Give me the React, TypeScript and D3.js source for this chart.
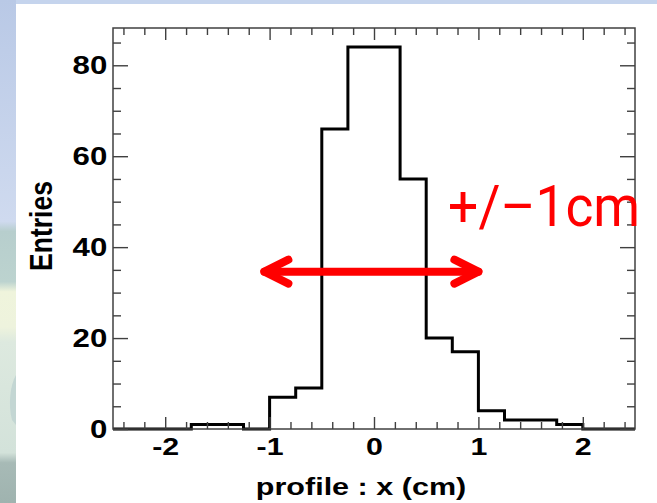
import React, { useRef, useEffect } from 'react';
import * as d3 from 'd3';

// histogram bins (cm) and entries per bin
const binEdges = [-2.5, -2.25, -2.0, -1.75, -1.5, -1.25, -1.0, -0.75, -0.5, -0.25, 0, 0.25, 0.5, 0.75, 1.0, 1.25, 1.5, 1.75, 2.0, 2.25, 2.5];
const counts = [0, 0, 0, 1, 1, 0, 7, 9, 66, 84, 84, 55, 20, 17, 4, 2, 2, 1, 0, 0];

const xDomain = [-2.5, 2.5];
const yDomain = [0, 88.2];
const xMajorTicks = [-2, -1, 0, 1, 2];
const xMinorTicks = [-2.4, -2.2, -1.8, -1.6, -1.4, -1.2, -0.8, -0.6, -0.4, -0.2, 0.2, 0.4, 0.6, 0.8, 1.2, 1.4, 1.6, 1.8, 2.2, 2.4];
const yMajorTicks = [0, 20, 40, 60, 80];
const yMinorTicks = [5, 10, 15, 25, 30, 35, 45, 50, 55, 65, 70, 75, 85];

const xTitle = 'profile : x (cm)';
const yTitle = 'Entries';

// red annotation: double arrow and label
const arrowEnds = [-1.05, 1.0];
const arrowLevel = 34.6;
const noteText = '+/–1cm';
const notePos = [0.71, 44.6];

const W = 657;
const H = 503;
const frame = { left: 113, right: 635, top: 28, bottom: 429 };
const FONT = '"Liberation Sans", Arial, Helvetica, sans-serif';

const App = () => {
    const chartRef = useRef(null);

    useEffect(() => {
        const svg = d3.select(chartRef.current);
        svg.selectAll('*').remove();
        svg.attr('width', W).attr('height', H);

        // slide background bits (top strip + landscape on the left edge)
        const defs = svg.append('defs');
        const grad = defs.append('linearGradient')
            .attr('id', 'sky')
            .attr('x1', 0).attr('y1', 0).attr('x2', 0).attr('y2', 1);
        [
            [0, '#b9c9e6'], [0.44, '#cfdaef'], [0.46, '#b7cecd'], [0.56, '#bcd3cf'],
            [0.58, '#eff4dc'], [0.65, '#eef3dd'], [0.68, '#dde9df'], [0.9, '#d3e2da'],
            [0.92, '#a7bab6'], [1, '#9fb3af']
        ].forEach(([o, c]) => grad.append('stop').attr('offset', o).attr('stop-color', c));

        svg.append('rect').attr('width', W).attr('height', H).attr('fill', '#ffffff');
        svg.append('rect').attr('width', W).attr('height', 4).attr('fill', '#c5d4ed');
        svg.append('rect').attr('width', 16).attr('height', H).attr('fill', 'url(#sky)');
        svg.append('path')
            .attr('d', 'M16,375 C10,385 8,405 12,420 L16,425 Z')
            .attr('fill', '#c3d6d3');

        const x = d3.scaleLinear().domain(xDomain).range([frame.left, frame.right]);
        const y = d3.scaleLinear().domain(yDomain).range([frame.bottom, frame.top]);

        // histogram outline
        const pts = binEdges.map((e, i) => [e, counts[Math.min(i, counts.length - 1)]]);
        const line = d3.line()
            .x((d) => x(d[0]))
            .y((d) => y(d[1]))
            .curve(d3.curveStepAfter);

        svg.append('path')
            .datum(pts)
            .attr('d', line)
            .attr('fill', 'none')
            .attr('stroke', '#000')
            .attr('stroke-width', 3);

        // frame
        svg.append('rect')
            .attr('x', frame.left)
            .attr('y', frame.top)
            .attr('width', frame.right - frame.left)
            .attr('height', frame.bottom - frame.top)
            .attr('fill', 'none')
            .attr('stroke', '#404040')
            .attr('stroke-width', 1.5);

        const styleAxis = (g) => {
            g.select('.domain').remove();
            g.selectAll('line').attr('stroke', '#404040').attr('stroke-width', 1.4);
            g.attr('font-family', FONT).attr('font-weight', 'bold');
        };
        const noLabel = () => '';

        // bottom
        svg.append('g')
            .attr('transform', `translate(0,${frame.bottom})`)
            .call(d3.axisBottom(x).tickValues(xMajorTicks).tickSize(-12).tickSizeOuter(0)
                .tickPadding(10).tickFormat((d) => String(d)))
            .call(styleAxis)
            .call((g) => g.selectAll('text')
                .attr('font-size', 23)
                .attr('fill', '#000')
                .attr('transform', 'scale(1.32,1)'));
        svg.append('g')
            .attr('transform', `translate(0,${frame.bottom})`)
            .call(d3.axisBottom(x).tickValues(xMinorTicks).tickSize(-7).tickSizeOuter(0).tickFormat(noLabel))
            .call(styleAxis);

        // top
        svg.append('g')
            .attr('transform', `translate(0,${frame.top})`)
            .call(d3.axisTop(x).tickValues(xMajorTicks).tickSize(-12).tickSizeOuter(0).tickFormat(noLabel))
            .call(styleAxis);
        svg.append('g')
            .attr('transform', `translate(0,${frame.top})`)
            .call(d3.axisTop(x).tickValues(xMinorTicks).tickSize(-7).tickSizeOuter(0).tickFormat(noLabel))
            .call(styleAxis);

        // left
        svg.append('g')
            .attr('transform', `translate(${frame.left},0)`)
            .call(d3.axisLeft(y).tickValues(yMajorTicks).tickSize(-15).tickSizeOuter(0)
                .tickPadding(4.8).tickFormat((d) => String(d)))
            .call(styleAxis)
            .call((g) => g.selectAll('text')
                .attr('font-size', 26)
                .attr('fill', '#000')
                .attr('transform', 'scale(1.2,1)'));
        svg.append('g')
            .attr('transform', `translate(${frame.left},0)`)
            .call(d3.axisLeft(y).tickValues(yMinorTicks).tickSize(-8).tickSizeOuter(0).tickFormat(noLabel))
            .call(styleAxis);

        // right
        svg.append('g')
            .attr('transform', `translate(${frame.right},0)`)
            .call(d3.axisRight(y).tickValues(yMajorTicks).tickSize(-15).tickSizeOuter(0).tickFormat(noLabel))
            .call(styleAxis);
        svg.append('g')
            .attr('transform', `translate(${frame.right},0)`)
            .call(d3.axisRight(y).tickValues(yMinorTicks).tickSize(-8).tickSizeOuter(0).tickFormat(noLabel))
            .call(styleAxis);

        // axis titles
        svg.append('text')
            .attr('transform', 'translate(361,495) scale(1.3,1)')
            .attr('text-anchor', 'middle')
            .attr('font-family', FONT)
            .attr('font-weight', 'bold')
            .attr('font-size', 23.5)
            .text(xTitle);

        svg.append('text')
            .attr('transform', 'translate(52,226) rotate(-90) scale(1.02,1.18)')
            .attr('text-anchor', 'middle')
            .attr('font-family', FONT)
            .attr('font-weight', 'bold')
            .attr('font-size', 26)
            .text(yTitle);

        // annotation arrow
        const ay = y(arrowLevel);
        const ax0 = x(arrowEnds[0]);
        const ax1 = x(arrowEnds[1]);
        const arrow = svg.append('g')
            .attr('fill', 'none')
            .attr('stroke', '#ff0000')
            .attr('stroke-width', 8)
            .attr('stroke-linecap', 'round')
            .attr('stroke-linejoin', 'round');
        arrow.append('path').attr('d', `M${ax0},${ay}L${ax1},${ay}`);
        arrow.append('path').attr('d', `M${ax0 + 24},${ay - 12}L${ax0},${ay}L${ax0 + 24},${ay + 12}`);
        arrow.append('path').attr('d', `M${ax1 - 24},${ay - 12}L${ax1},${ay}L${ax1 - 24},${ay + 12}`);

        svg.append('text')
            .attr('transform', `translate(${x(notePos[0])},${y(notePos[1])}) scale(0.92,1)`)
            .attr('font-family', 'Roboto, "Liberation Sans", sans-serif')
            .attr('font-size', 58)
            .attr('fill', '#ff0000')
            .text(noteText);
    }, []);

    return (
        <div style={{ position: 'absolute', left: 0, top: 0 }}>
            <svg ref={chartRef} style={{ display: 'block' }}></svg>
        </div>
    );
};

export default App;
